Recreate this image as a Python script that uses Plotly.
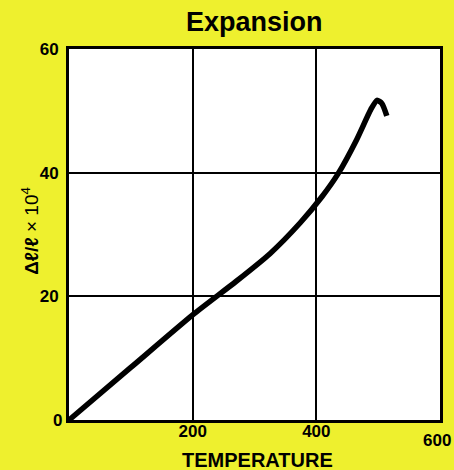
import plotly.graph_objects as go

# Thermal expansion curve: temperature vs relative elongation (x 10^4)
temperature = [0, 100, 200, 270, 325, 374, 409, 435, 465, 488, 498, 506, 514]
expansion = [0, 8.5, 17.0, 22.4, 26.9, 31.9, 36.1, 39.8, 45.3, 50.2, 51.7, 51.2, 49.2]

x_ticks = [0, 200, 400, 600]
y_ticks = [0, 20, 40, 60]

YELLOW = "rgb(238,240,46)"
FONT = "Liberation Sans, Arial, sans-serif"

fig = go.Figure()
fig.add_trace(go.Scatter(
    x=temperature, y=expansion, mode="lines",
    line=dict(color="black", width=5.5, shape="spline", smoothing=0.6),
    showlegend=False, hoverinfo="skip",
))

axis_common = dict(
    showgrid=True, gridcolor="black", gridwidth=2,
    showline=True, linecolor="black", linewidth=3, mirror=True,
    zeroline=False, ticks="", automargin=False,
    tickfont=dict(family=FONT, size=17, color="black", weight="bold"),
)

# first and last x labels are placed separately so they stay inside the page
fig.update_xaxes(range=[0, 600], tickvals=x_ticks,
                 ticktext=[""] + [str(v) for v in x_ticks[1:-1]] + [""],
                 ticklabelstandoff=-6, **axis_common)
fig.update_yaxes(range=[0, 60], tickvals=y_ticks,
                 ticktext=[""] + [str(v) for v in y_ticks[1:]],
                 ticklabelstandoff=4, **axis_common)

fig.add_annotation(
    text=f"<b>{x_ticks[-1]}</b>", x=x_ticks[-1], y=0, xref="x", yref="y",
    xanchor="right", yanchor="top", xshift=13, yshift=-9, showarrow=False,
    font=dict(family=FONT, size=17, color="black"),
)
# origin label sits at the lower-left corner
fig.add_annotation(
    text=f"<b>{y_ticks[0]}</b>", x=0, y=0, xref="x", yref="y",
    xanchor="right", yanchor="middle", xshift=-5, showarrow=False,
    font=dict(family=FONT, size=17, color="black"),
)

fig.add_annotation(
    text="<b>Expansion</b>", x=0.499, y=1.073, xref="paper", yref="paper",
    xanchor="center", yanchor="middle", showarrow=False,
    font=dict(family=FONT, size=27, color="black"),
)
fig.add_annotation(
    text="<b>TEMPERATURE</b>", x=0.507, y=-0.108, xref="paper", yref="paper",
    xanchor="center", yanchor="middle", showarrow=False,
    font=dict(family=FONT, size=20, color="black"),
)
fig.add_annotation(
    text="<b>Δℓ/ℓ</b> × 10<sup>4</sup>", x=-0.105, y=0.51, xref="paper", yref="paper",
    xanchor="center", yanchor="middle", showarrow=False, textangle=-90,
    font=dict(family=FONT, size=19, color="black"),
)

fig.update_layout(
    width=454, height=470,
    margin=dict(l=69, r=14, t=49, b=50),
    paper_bgcolor=YELLOW, plot_bgcolor="white",
)

fig.write_html("out.html")
